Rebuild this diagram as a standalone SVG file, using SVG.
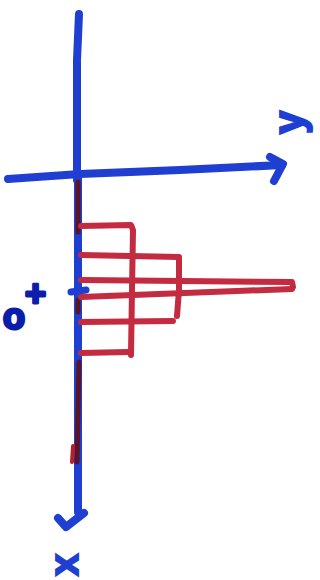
<svg xmlns="http://www.w3.org/2000/svg" width="320" height="580" viewBox="0 0 320 580">
<style>
.ax{fill:none;stroke:#1e3fd2;stroke-width:8;stroke-linecap:round;stroke-linejoin:round}
.rd{fill:none;stroke:#c42a40;stroke-width:6;stroke-linecap:round;stroke-linejoin:round}
.dk{fill:none;stroke:#5a1426;stroke-width:5;stroke-linecap:round}
.lbl{font-family:"Liberation Sans",Arial,sans-serif;font-weight:bold;fill:#1e3fd2}
.lbl2{font-family:"Liberation Sans",Arial,sans-serif;font-weight:bold;fill:#0c1cab;stroke:#0c1cab;stroke-width:3;stroke-linejoin:round}
</style>
<rect width="320" height="580" fill="#fff"/>
<g id="axes">
<path class="ax" d="M79 14 L77 60 L77 180" stroke="#1418c8"/>
<path class="ax" d="M78 178 L78 512"/>
<path class="ax" d="M58 518 L66 527 L84 513"/>
<path class="ax" d="M8 179 L80 174 L180 170 L282 165"/>
<path class="ax" d="M270 157 L283 164 L274 181"/>
<path d="M71 292 L86 290" fill="none" stroke="#1e3fd2" stroke-width="7" stroke-linecap="round"/>
</g>
<g id="histogram">
<path class="dk" d="M78 182 L78 232"/>
<path class="dk" d="M78 300 L78 312" stroke-width="3"/>
<path class="dk" d="M79 362 L77 462"/>
<path d="M73 446 L72 462" fill="none" stroke="#b02030" stroke-width="4" stroke-linecap="round"/>
<path class="rd" d="M81 226 L131 225 L133 230 L132 290 L131 355"/>
<path class="rd" d="M81 255 L179 257 L179 290 L177 316"/>
<path class="rd" d="M81 280 L292 282 L293 287"/>
<path class="rd" d="M81 297 L292 289"/>
<path class="rd" d="M81 322 L173 321"/>
<path class="rd" d="M81 353 L128 352"/>
</g>
<g id="labels">
<text class="lbl" x="0" y="0" font-size="42" stroke="#1e3fd2" stroke-width="2" transform="translate(303,134) rotate(-90)">y</text>
<text class="lbl" x="0" y="0" font-size="40" stroke="#1e3fd2" stroke-width="2" transform="translate(78,576) rotate(-90)">x</text>
<text class="lbl2" x="3" y="329" font-size="36">o</text>
<text class="lbl2" x="25" y="306" font-size="36">+</text>
</g>
</svg>
